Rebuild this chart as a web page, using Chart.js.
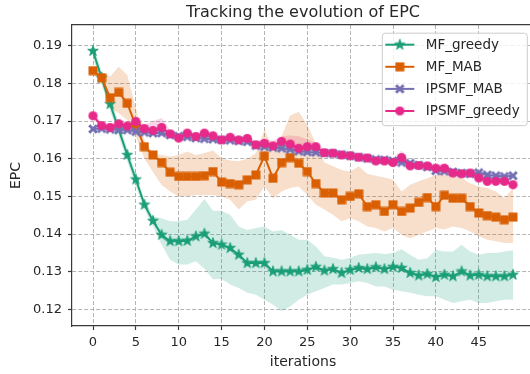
<!DOCTYPE html>
<html><head><meta charset="utf-8">
<script src="https://cdn.jsdelivr.net/npm/chart.js@4.4.1/dist/chart.umd.min.js"></script>
<style>
html,body{margin:0;padding:0;background:#fff;overflow:hidden;width:530px;height:374px;}
#wrap{width:540px;height:374px;}
canvas{display:block;}
</style></head><body>
<div id="wrap"><canvas id="c" width="540" height="374" style="width:540px;height:374px"></canvas></div>
<script>
// ---------- data ----------
const iterations = [0,1,2,3,4,5,6,7,8,9,10,11,12,13,14,15,16,17,18,19,20,21,22,23,24,25,26,27,28,29,30,31,32,33,34,35,36,37,38,39,40,41,42,43,44,45,46,47,48,49];
const xTicks = [0,5,10,15,20,25,30,35,40,45];
const yTicks = [0.12,0.13,0.14,0.15,0.16,0.17,0.18,0.19];
const seriesNames = ['MF_greedy','MF_MAB','IPSMF_MAB','IPSMF_greedy'];
const chartTitle = 'Tracking the evolution of EPC';
const xLabel = 'iterations';
const yLabel = 'EPC';

const mfGreedy = [0.1886,0.1815,0.1745,0.1678,0.1610,0.1545,0.1478,0.1435,0.1398,0.1381,
0.1381,0.1382,0.1394,0.1401,0.1376,0.1372,0.1363,0.1345,0.1323,0.1323,
0.1323,0.1301,0.1301,0.1301,0.1301,0.1305,0.1313,0.1303,0.1307,0.1297,
0.1305,0.1310,0.1307,0.1312,0.1307,0.1313,0.1310,0.1297,0.1290,0.1294,
0.1286,0.1292,0.1288,0.1301,0.1290,0.1292,0.1288,0.1288,0.1288,0.1292];
const mfGreedyLo = [0.1867,0.1798,0.1727,0.1660,0.1592,0.1526,0.1465,0.1420,0.1372,0.1332,
0.1319,0.1319,0.1328,0.1308,0.1280,0.1281,0.1266,0.1257,0.1244,0.1239,
0.1226,0.1213,0.1195,0.1208,0.1226,0.1239,0.1248,0.1257,0.1266,0.1266,
0.1270,0.1275,0.1270,0.1261,0.1261,0.1252,0.1248,0.1244,0.1239,0.1235,
0.1235,0.1226,0.1217,0.1222,0.1226,0.1217,0.1217,0.1222,0.1226,0.1226];
const mfGreedyHi = [0.1906,0.1832,0.1763,0.1696,0.1628,0.1562,0.1491,0.1447,0.1442,0.1434,
0.1434,0.1438,0.1465,0.1493,0.1462,0.1462,0.1451,0.1420,0.1411,0.1416,
0.1420,0.1407,0.1411,0.1398,0.1385,0.1385,0.1367,0.1341,0.1337,0.1332,
0.1337,0.1345,0.1348,0.1350,0.1347,0.1350,0.1360,0.1345,0.1332,0.1336,
0.1358,0.1354,0.1354,0.1372,0.1354,0.1345,0.1350,0.1350,0.1354,0.1357];

const mfMab = [0.1834,0.1815,0.1762,0.1776,0.1747,0.1687,0.1632,0.1610,0.1590,0.1564,
0.1553,0.1553,0.1553,0.1555,0.1566,0.1538,0.1534,0.1531,0.1544,0.1557,
0.1607,0.1548,0.1590,0.1603,0.1588,0.1566,0.1534,0.1509,0.1509,0.1491,
0.1500,0.1507,0.1473,0.1478,0.1460,0.1478,0.1460,0.1469,0.1484,0.1497,
0.1473,0.1503,0.1495,0.1495,0.1473,0.1456,0.1449,0.1445,0.1438,0.1445];
const mfMabLo = [0.1827,0.1800,0.1734,0.1721,0.1703,0.1659,0.1600,0.1565,0.1530,0.1513,
0.1500,0.1500,0.1504,0.1503,0.1504,0.1500,0.1491,0.1465,0.1487,0.1491,
0.1526,0.1495,0.1513,0.1522,0.1526,0.1504,0.1478,0.1465,0.1451,0.1434,
0.1442,0.1434,0.1420,0.1416,0.1407,0.1416,0.1398,0.1389,0.1398,0.1407,
0.1416,0.1412,0.1420,0.1416,0.1407,0.1394,0.1385,0.1381,0.1376,0.1376];
const mfMabHi = [0.1844,0.1831,0.1818,0.1844,0.1822,0.1734,0.1650,0.1615,0.1610,0.1606,
0.1610,0.1619,0.1610,0.1615,0.1622,0.1601,0.1595,0.1593,0.1600,0.1615,
0.1677,0.1630,0.1660,0.1715,0.1725,0.1690,0.1640,0.1590,0.1580,0.1570,
0.1566,0.1580,0.1560,0.1555,0.1550,0.1544,0.1513,0.1531,0.1540,0.1548,
0.1557,0.1562,0.1553,0.1549,0.1535,0.1526,0.1522,0.1513,0.1495,0.1522];

const ipsmfMab = [0.1679,0.1680,0.1678,0.1677,0.1676,0.1672,0.1670,0.1668,0.1668,0.1663,
0.1660,0.1658,0.1655,0.1653,0.1652,0.1650,0.1649,0.1647,0.1645,0.1635,
0.1632,0.1630,0.1628,0.1625,0.1620,0.1618,0.1617,0.1615,0.1614,0.1611,
0.1608,0.1604,0.1601,0.1598,0.1597,0.1594,0.1590,0.1588,0.1583,0.1578,
0.1568,0.1567,0.1565,0.1562,0.1560,0.1563,0.1557,0.1555,0.1553,0.1555];
const ipsmfMabLo = [0.1673,0.1674,0.1672,0.1671,0.1670,0.1665,0.1664,0.1662,0.1662,0.1657,
0.1654,0.1652,0.1649,0.1647,0.1646,0.1644,0.1643,0.1641,0.1639,0.1629,
0.1626,0.1624,0.1622,0.1619,0.1614,0.1612,0.1611,0.1609,0.1608,0.1605,
0.1602,0.1598,0.1595,0.1592,0.1591,0.1588,0.1584,0.1582,0.1577,0.1572,
0.1562,0.1561,0.1559,0.1556,0.1554,0.1557,0.1551,0.1549,0.1547,0.1549];
const ipsmfMabHi = [0.1685,0.1686,0.1684,0.1683,0.1682,0.1679,0.1676,0.1674,0.1674,0.1669,
0.1666,0.1664,0.1661,0.1659,0.1658,0.1656,0.1655,0.1653,0.1651,0.1641,
0.1638,0.1636,0.1634,0.1631,0.1626,0.1624,0.1623,0.1621,0.1620,0.1617,
0.1614,0.1610,0.1607,0.1604,0.1603,0.1600,0.1596,0.1594,0.1589,0.1584,
0.1574,0.1573,0.1571,0.1568,0.1566,0.1569,0.1563,0.1561,0.1559,0.1561];

const ipsmfGreedy = [0.1714,0.1688,0.1683,0.1693,0.1687,0.1699,0.1680,0.1675,0.1683,0.1666,
0.1655,0.1668,0.1659,0.1668,0.1661,0.1650,0.1657,0.1650,0.1654,0.1637,
0.1641,0.1634,0.1646,0.1639,0.1628,0.1632,0.1632,0.1616,0.1615,0.1610,
0.1608,0.1604,0.1602,0.1594,0.1594,0.1590,0.1603,0.1581,0.1582,0.1581,
0.1575,0.1575,0.1562,0.1560,0.1562,0.1549,0.1540,0.1540,0.1540,0.1531];
const ipsmfGreedyLo = [0.1706,0.1680,0.1675,0.1684,0.1679,0.1690,0.1672,0.1667,0.1674,0.1658,
0.1647,0.1660,0.1651,0.1660,0.1653,0.1642,0.1649,0.1642,0.1646,0.1629,
0.1632,0.1626,0.1637,0.1630,0.1620,0.1623,0.1624,0.1608,0.1607,0.1602,
0.1600,0.1596,0.1594,0.1586,0.1586,0.1582,0.1592,0.1573,0.1574,0.1573,
0.1567,0.1567,0.1554,0.1552,0.1554,0.1541,0.1532,0.1532,0.1532,0.1523];
const ipsmfGreedyHi = [0.1722,0.1698,0.1692,0.1701,0.1695,0.1707,0.1690,0.1700,0.1708,0.1676,
0.1664,0.1677,0.1668,0.1676,0.1670,0.1658,0.1666,0.1658,0.1663,0.1646,
0.1652,0.1648,0.1660,0.1662,0.1660,0.1652,0.1642,0.1626,0.1624,0.1620,
0.1617,0.1613,0.1611,0.1603,0.1603,0.1600,0.1622,0.1592,0.1591,0.1590,
0.1584,0.1584,0.1571,0.1569,0.1571,0.1558,0.1549,0.1549,0.1549,0.1540];

const colors = ['#1b9e77','#d95f02','#7570b3','#e7298a'];
const bandColors = ['rgba(27,158,119,0.2)','rgba(217,95,2,0.2)','rgba(117,112,179,0.2)','rgba(231,41,138,0.2)'];

// ---------- marker images ----------
function makeStar(color){
  const c=document.createElement('canvas'); c.width=c.height=14;
  const g=c.getContext('2d'); g.translate(7,7); g.beginPath();
  for(let k=0;k<10;k++){ const r=k%2===0?5.6:2.3; const a=-Math.PI/2+k*Math.PI/5; g.lineTo(r*Math.cos(a),r*Math.sin(a)); }
  g.closePath(); g.fillStyle=color; g.fill(); g.lineWidth=0.8; g.strokeStyle=color; g.stroke(); return c;
}
function makeSquare(color){
  const c=document.createElement('canvas'); c.width=c.height=10;
  const g=c.getContext('2d'); g.fillStyle=color; g.fillRect(0.5,0.5,9,9); return c;
}
function makeX(color){
  const c=document.createElement('canvas'); c.width=c.height=12;
  const g=c.getContext('2d'); g.translate(6,6); g.strokeStyle=color; g.lineWidth=3; g.lineCap='butt';
  g.beginPath(); g.moveTo(-3.8,-3.8); g.lineTo(3.8,3.8); g.moveTo(-3.8,3.8); g.lineTo(3.8,-3.8); g.stroke(); return c;
}
function makeCircle(color){
  const c=document.createElement('canvas'); c.width=c.height=11;
  const g=c.getContext('2d'); g.fillStyle=color; g.beginPath(); g.arc(5.5,5.5,4.6,0,Math.PI*2); g.fill(); return c;
}
const markers = [makeStar(colors[0]), makeSquare(colors[1]), makeX(colors[2]), makeCircle(colors[3])];

const mains = [mfGreedy, mfMab, ipsmfMab, ipsmfGreedy];
const los = [mfGreedyLo, mfMabLo, ipsmfMabLo, ipsmfGreedyLo];
const his = [mfGreedyHi, mfMabHi, ipsmfMabHi, ipsmfGreedyHi];
const toPts = arr => iterations.map((x,i)=>({x:x, y:arr[i]}));

const datasets = [];
mains.forEach((arr,k)=>{
  datasets.push({label:seriesNames[k], data:toPts(arr), borderColor:colors[k], backgroundColor:colors[k],
    borderWidth:2, pointStyle:markers[k], pointRadius:4, pointHoverRadius:4, tension:0, fill:false, order:4-k});
});
mains.forEach((arr,k)=>{
  const loIdx = datasets.length;
  datasets.push({label:'_lo'+k, data:toPts(los[k]), borderWidth:0, pointRadius:0, fill:false, order:10, borderColor:'rgba(0,0,0,0)'});
  datasets.push({label:'_hi'+k, data:toPts(his[k]), borderWidth:0, pointRadius:0, fill:loIdx, backgroundColor:bandColors[k], order:10, borderColor:'rgba(0,0,0,0)'});
});

const FONT = 'DejaVu Sans';
const TXT = '#262626';
const SPINE = '#3a3a3a';

const legendPlugin = {
  id:'mplLegend',
  afterDraw(chart){
    const ctx=chart.ctx, a=chart.chartArea;
    const w=145, h=92.5;
    const right=a.right-7.2, top=a.top+7.7, left=right-w;
    ctx.save();
    ctx.beginPath();
    if(ctx.roundRect) ctx.roundRect(left+0.5, top+0.5, w, h, 3); else ctx.rect(left+0.5,top+0.5,w,h);
    ctx.fillStyle='rgba(255,255,255,0.8)'; ctx.fill();
    ctx.strokeStyle='#cccccc'; ctx.lineWidth=1; ctx.stroke();
    ctx.font='13.5px "'+FONT+'"'; ctx.textBaseline='middle'; ctx.textAlign='left';
    seriesNames.forEach((name,k)=>{
      const y=top+12+22.1*k;
      const x0=left+3.5, x1=left+32.5, xm=(x0+x1)/2;
      ctx.strokeStyle=colors[k]; ctx.lineWidth=2;
      ctx.beginPath(); ctx.moveTo(x0,y); ctx.lineTo(x1,y); ctx.stroke();
      const m=markers[k]; ctx.drawImage(m, xm-m.width/2, y-m.height/2);
      ctx.fillStyle=TXT; ctx.fillText(name, left+44, y+0.5);
    });
    ctx.restore();
  }
};

new Chart(document.getElementById('c'), {
  type:'line',
  data:{datasets:datasets},
  plugins:[legendPlugin],
  options:{
    responsive:false, animation:false, devicePixelRatio:1,
    layout:{padding:{left:0,right:5.5,top:0,bottom:0}},
    plugins:{
      legend:{display:false}, tooltip:{enabled:false},
      filler:{propagate:false, drawTime:'beforeDatasetsDraw'},
      title:{display:true, text:chartTitle, color:TXT, fullSize:false,
        font:{family:FONT, size:16, weight:'normal'}, padding:{top:3,bottom:2.8}}
    },
    scales:{
      x:{type:'linear', position:'bottom', min:-2.45, max:51.45,
        afterBuildTicks:s=>{ s.ticks = xTicks.map(v=>({value:v})); },
        afterFit:s=>{ s.height=48; },
        ticks:{color:TXT, font:{family:FONT,size:13}, padding:5, maxRotation:0, autoSkip:false, callback:v=>String(v)},
        grid:{color:'#b4b4b4', lineWidth:1, tickColor:SPINE, tickLength:4, tickWidth:1.2},
        border:{display:true, color:SPINE, width:1.2, dash:[4,2]},
        title:{display:true, text:xLabel, color:TXT, font:{family:FONT,size:14}, padding:{top:0,bottom:3}}
      },
      x2:{type:'linear', position:'top', min:-2.45, max:51.45, display:true,
        afterFit:s=>{ s.height=0; },
        ticks:{display:false}, grid:{drawOnChartArea:false, drawTicks:false},
        border:{display:true, color:SPINE, width:1.2}
      },
      y:{type:'linear', position:'left', min:0.1156, max:0.1955,
        afterBuildTicks:s=>{ s.ticks = yTicks.map(v=>({value:v})); },
        afterFit:s=>{ s.width=72; },
        ticks:{color:TXT, font:{family:FONT,size:13}, padding:6, callback:v=>v.toFixed(2)},
        grid:{color:'#b4b4b4', lineWidth:1, tickColor:SPINE, tickLength:4, tickWidth:1.2},
        border:{display:true, color:SPINE, width:1.2, dash:[4,2]},
        title:{display:true, text:yLabel, color:TXT, font:{family:FONT,size:14}, padding:{top:8,bottom:0}}
      }
    }
  }
});
</script>
</body></html>
